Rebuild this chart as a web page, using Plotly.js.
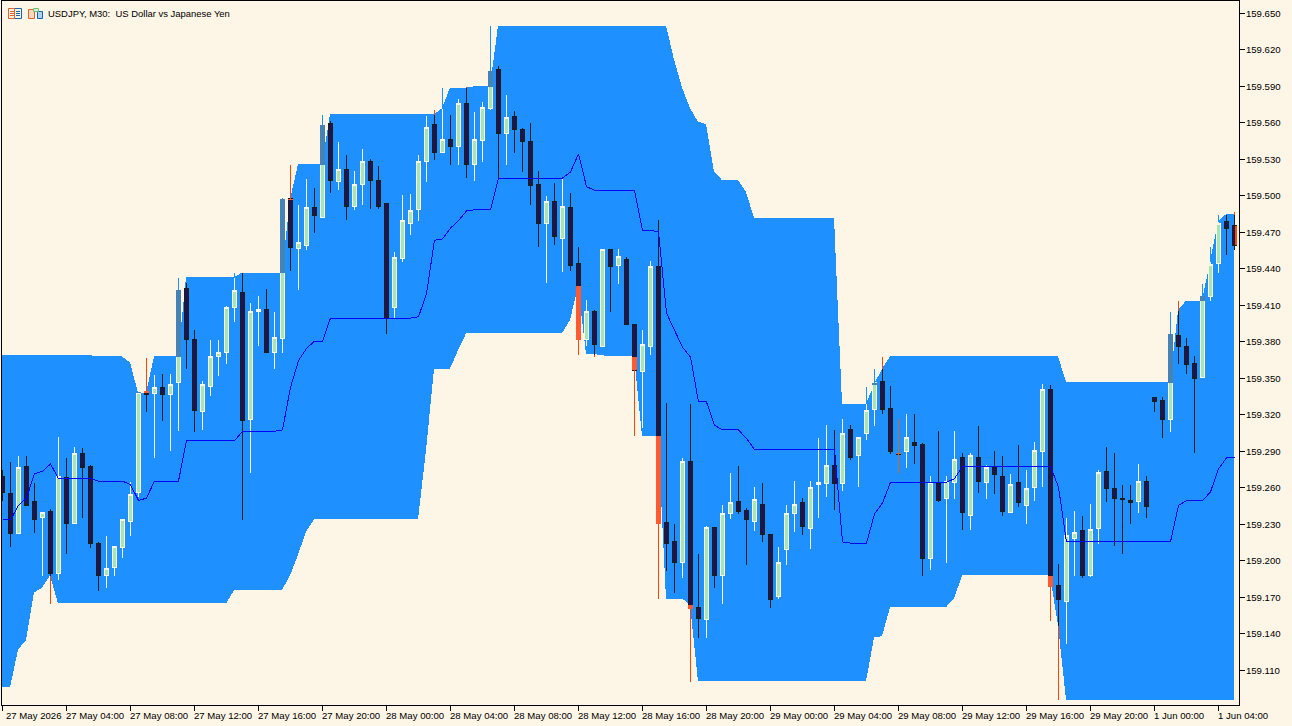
<!DOCTYPE html>
<html><head><meta charset="utf-8">
<script src="https://cdn.plot.ly/plotly-3.0.1.min.js"></script>
<style>html,body{margin:0;padding:0;background:#FDF5E6;overflow:hidden}#c{width:1292px;height:726px}
.boxlayer{transform:translate(0.5px,0.5px)}
.boxlayer path{shape-rendering:crispEdges}
.overplot .xy2 .scatterlayer{transform:translate(0.5px,0.5px)}
.scatterlayer path{shape-rendering:crispEdges}
</style>
</head><body><div id="c"></div>
<script>
const opens=[159.270,159.256,159.223,159.278,159.249,159.236,159.241,159.190,159.269,159.231,
159.289,159.278,159.215,159.188,159.195,159.211,159.233,159.257,159.340,159.338,
159.343,159.337,159.347,159.424,159.382,159.323,159.344,159.368,159.372,159.409,
159.421,159.317,159.405,159.407,159.372,159.383,159.498,159.457,159.460,159.491,
159.483,159.560,159.512,159.522,159.492,159.510,159.529,159.513,159.494,159.409,
159.449,159.478,159.489,159.529,159.559,159.536,159.547,159.541,159.576,159.526,
159.546,159.572,159.604,159.552,159.566,159.555,159.545,159.510,159.478,159.496,
159.465,159.491,159.445,159.382,159.405,159.377,159.456,159.443,159.448,159.395,
159.356,159.377,159.442,159.232,159.216,159.199,159.282,159.162,159.152,159.228,
159.188,159.239,159.249,159.242,159.233,159.247,159.222,159.171,159.210,159.239,
159.248,159.227,159.263,159.264,159.279,159.264,159.308,159.287,159.305,159.325,
159.348,159.326,159.289,159.290,159.298,159.296,159.202,159.264,159.252,159.265,
159.285,159.238,159.285,159.265,159.277,159.270,159.240,159.265,159.246,159.261,
159.290,159.341,159.180,159.167,159.219,159.225,159.188,159.227,159.274,159.260,
159.252,159.250,159.249,159.266,159.335,159.332,159.317,159.386,159.377,159.363,
159.351,159.418,159.445,159.479,159.476];
const highs=[159.275,159.282,159.287,159.287,159.264,159.240,159.243,159.302,159.285,159.294,
159.293,159.279,159.216,159.221,159.212,159.235,159.265,159.339,159.367,159.353,
159.354,159.354,159.433,159.429,159.390,159.348,159.382,159.382,159.410,159.437,
159.437,159.412,159.418,159.424,159.405,159.499,159.526,159.493,159.514,159.507,
159.567,159.562,159.545,159.534,159.521,159.539,159.531,159.525,159.494,159.454,
159.501,159.502,159.534,159.566,159.571,159.589,159.567,159.580,159.590,159.569,
159.578,159.640,159.607,159.583,159.570,159.556,159.560,159.521,159.500,159.511,
159.515,159.503,159.458,159.415,159.407,159.456,159.457,159.457,159.450,159.395,
159.390,159.447,159.481,159.330,159.231,159.285,159.329,159.206,159.229,159.228,
159.246,159.273,159.278,159.244,159.261,159.264,159.222,159.212,159.246,159.266,
159.252,159.266,159.301,159.312,159.308,159.317,159.312,159.302,159.343,159.358,
159.368,159.344,159.317,159.321,159.321,159.297,159.270,159.307,159.270,159.307,
159.289,159.289,159.311,159.279,159.291,159.287,159.272,159.296,159.275,159.298,
159.346,159.345,159.198,159.236,159.241,159.237,159.247,159.275,159.294,159.289,
159.263,159.263,159.280,159.270,159.335,159.335,159.405,159.414,159.384,159.369,
159.428,159.458,159.485,159.485,159.487];
const lows=[159.250,159.212,159.223,159.246,159.223,159.188,159.165,159.185,159.206,159.231,
159.236,159.211,159.176,159.178,159.188,159.203,159.221,159.253,159.323,159.285,
159.315,159.291,159.307,159.358,159.306,159.308,159.336,159.352,159.362,159.397,
159.234,159.273,159.377,159.372,159.358,159.371,159.439,159.423,159.456,159.470,
159.483,159.503,159.505,159.481,159.489,159.493,159.490,159.490,159.387,159.400,
159.446,159.468,159.480,159.512,159.530,159.536,159.526,159.526,159.515,159.513,
159.528,159.571,159.515,159.526,159.536,159.520,159.493,159.458,159.429,159.460,
159.438,159.439,159.370,159.377,159.368,159.377,159.405,159.428,159.395,159.303,
159.310,159.370,159.169,159.192,159.174,159.186,159.101,159.137,159.137,159.178,
159.165,159.235,159.239,159.197,159.225,159.216,159.162,159.169,159.197,159.224,
159.222,159.210,159.236,159.253,159.242,159.258,159.283,159.261,159.300,159.311,
159.321,159.288,159.273,159.277,159.280,159.188,159.193,159.249,159.199,159.251,
159.226,159.226,159.256,159.251,159.255,159.237,159.240,159.245,159.231,159.250,
159.261,159.151,159.086,159.132,159.188,159.186,159.187,159.214,159.249,159.213,
159.206,159.231,159.240,159.236,159.323,159.301,159.306,159.362,159.354,159.289,
159.351,159.414,159.437,159.452,159.456];
const closes=[159.257,159.223,159.277,159.246,159.234,159.240,159.190,159.270,159.231,159.289,
159.277,159.215,159.188,159.194,159.212,159.234,159.255,159.339,159.337,159.343,
159.337,159.345,159.423,159.382,159.324,159.345,159.368,159.372,159.409,159.423,
159.316,159.405,159.407,159.372,159.384,159.498,159.458,159.462,159.491,159.484,
159.559,159.513,159.522,159.492,159.510,159.529,159.513,159.492,159.400,159.450,
159.480,159.488,159.529,159.557,159.536,159.547,159.541,159.576,159.526,159.547,
159.573,159.603,159.552,159.565,159.555,159.545,159.509,159.478,159.496,159.467,
159.492,159.443,159.382,159.405,159.378,159.456,159.442,159.451,159.395,159.357,
159.378,159.442,159.231,159.215,159.199,159.282,159.161,159.153,159.228,159.188,
159.239,159.248,159.241,159.234,159.251,159.222,159.169,159.199,159.239,159.247,
159.229,159.261,159.265,159.279,159.264,159.305,159.285,159.302,159.324,159.347,
159.325,159.290,159.288,159.302,159.295,159.202,159.265,159.250,159.266,159.284,
159.240,159.287,159.266,159.277,159.271,159.241,159.263,159.248,159.260,159.291,
159.341,159.179,159.169,159.221,159.224,159.188,159.226,159.273,159.260,159.252,
159.251,159.248,159.266,159.245,159.331,159.317,159.387,159.377,159.362,159.350,
159.418,159.444,159.478,159.474,159.460];
const bandUpper=[159.369,159.369,159.369,159.369,159.369,159.369,159.369,159.369,159.369,159.369,159.369,159.369,
159.368,159.368,159.368,159.368,159.363,159.338,159.338,159.368,159.368,159.368,159.368,
159.433,159.433,159.433,159.433,159.433,159.433,159.433,
159.437,159.437,159.437,159.437,159.437,159.437,
159.497,159.526,159.526,159.526,159.526,159.567,
159.567,159.567,159.567,159.567,159.567,159.567,159.567,159.567,159.567,159.567,159.567,159.567,159.567,
159.572,159.589,159.589,159.589,159.590,159.590,159.590,
159.640,159.640,159.640,159.640,159.640,159.640,159.640,159.640,159.640,159.640,159.640,159.640,159.640,159.640,159.640,159.640,159.640,159.640,159.640,159.640,159.640,159.640,
159.612,159.589,159.572,159.561,159.559,159.520,159.513,159.513,159.513,159.503,
159.482,159.482,159.482,159.482,159.482,159.482,159.482,159.482,159.482,159.482,159.482,
159.329,159.329,159.329,159.329,159.345,159.358,
159.368,159.368,159.368,159.368,159.368,159.368,159.368,159.368,159.368,159.368,159.368,159.368,159.368,159.368,159.368,159.368,159.368,159.368,159.368,159.368,159.368,159.368,
159.347,159.347,159.347,159.347,159.347,159.347,159.347,159.347,159.347,159.347,159.347,159.347,159.347,159.347,
159.406,159.414,159.414,159.414,159.446,159.479,159.485,159.485];
const bandLower=[159.096,159.096,159.127,159.135,159.174,159.178,159.188,
159.165,159.165,159.165,159.165,159.165,159.165,159.165,159.165,159.165,159.165,159.165,159.165,159.165,159.165,159.165,159.165,159.165,159.165,159.165,159.165,159.165,159.165,
159.176,159.176,159.176,159.176,159.176,159.176,159.176,
159.188,159.205,159.224,
159.234,159.234,159.234,159.234,159.234,159.234,159.234,159.234,159.234,159.234,159.234,159.234,159.234,159.234,
159.291,159.358,159.358,159.358,159.373,
159.387,159.387,159.387,159.387,159.387,159.387,159.387,159.387,159.387,159.387,159.387,159.387,159.387,
159.398,159.426,159.370,159.370,159.369,159.368,159.368,159.368,159.368,
159.303,159.303,159.303,159.169,159.169,159.169,159.164,
159.101,159.101,159.101,159.101,159.101,159.101,159.101,159.101,159.101,159.101,159.101,159.101,159.101,159.101,159.101,159.101,159.101,159.101,159.101,159.101,159.101,159.101,
159.137,159.138,
159.162,159.162,159.162,159.162,159.162,159.162,159.162,159.162,159.169,
159.188,159.188,159.188,159.188,159.188,159.188,159.188,159.188,159.188,159.188,159.188,159.188,159.147,
159.086,159.086,159.086,159.086,159.086,159.086,159.086,159.086,159.086,159.086,159.086,159.086,159.086,159.086,159.086,159.086,159.086,159.086,159.086,159.086,159.086,159.086];
const midLine=[159.234,159.234,159.246,159.252,159.272,159.274,159.280,
159.268,159.268,159.268,159.268,159.268,159.266,159.266,159.266,159.266,159.263,159.250,159.252,
159.266,159.266,159.266,159.266,
159.299,159.299,159.299,159.299,159.299,159.299,159.299,
159.307,159.307,159.307,159.307,159.307,159.308,
159.343,159.365,159.375,159.381,159.381,
159.400,159.400,159.400,159.400,159.400,159.400,159.400,159.400,159.400,159.400,159.400,159.401,
159.420,159.464,159.465,159.474,159.480,159.488,159.489,159.489,159.489,
159.515,159.515,159.515,159.515,159.515,159.515,159.515,159.515,159.515,
159.520,159.535,159.508,
159.505,159.505,159.505,159.505,159.505,159.505,
159.472,159.472,159.471,159.404,159.390,159.376,159.368,159.331,159.331,159.312,159.308,159.308,159.308,159.301,
159.292,159.292,159.292,159.292,159.292,159.292,159.292,159.292,159.292,159.292,159.292,
159.216,159.215,159.215,159.215,159.239,159.248,
159.265,159.265,159.265,159.265,159.265,159.265,159.265,159.265,159.268,
159.278,159.278,159.278,159.278,159.278,159.278,159.278,159.278,159.278,159.278,159.278,159.278,159.261,
159.216,159.216,159.216,159.216,159.216,159.216,159.216,159.216,159.216,159.216,159.216,159.216,159.216,159.216,
159.246,159.250,159.250,159.250,159.257,159.276,159.285,159.285];
const barIndex=opens.map((_,i)=>i);
const dojiAccent=[112];
const yTicks=[159.110,159.140,159.170,159.200,159.230,159.260,159.290,159.320,159.350,159.380,159.410,159.440,159.470,159.500,159.530,159.560,159.590,159.620,159.650];
const xTickBars=[0,8,16,24,32,40,48,56,64,72,80,88,96,104,112,120,128,136,144,152];
const xTickLabels=["27 May 2026","27 May 04:00","27 May 08:00","27 May 12:00","27 May 16:00","27 May 20:00","28 May 00:00","28 May 04:00","28 May 08:00","28 May 12:00","28 May 16:00","28 May 20:00","29 May 00:00","29 May 04:00","29 May 08:00","29 May 12:00","29 May 16:00","29 May 20:00","1 Jun 00:00","1 Jun 04:00"];
const chartTitle="USDJPY, M30:\u00a0\u00a0US Dollar vs Japanese Yen";

const W=1292,H=726,mL=2,mR=53,mT=1,mB=21;
const xRange=[0,154.625], yRange=[159.0815,159.6602];
const CREAM='#FDF5E6',BLUE='#1E90FF',ORANGE='#FF4500',ACCENT='#D2691E';
const FONT='"Liberation Sans"';

const wB={x:[],y:[]},wO={x:[],y:[]},bS={x:[],y:[]},bO={x:[],y:[]},dA={x:[],y:[]},dB={x:[],y:[]},tail={x:[],y:[]};
const seg=(t,i,a,b)=>{t.x.push(i,i,null);t.y.push(a,b,null);};
barIndex.forEach(i=>{
  if(dojiAccent.includes(i))return;
  const bull=closes[i]>=opens[i],top=Math.max(opens[i],closes[i]),bot=Math.min(opens[i],closes[i]);
  const u=bandUpper[i],l=bandLower[i];
  if(highs[i]>u){seg(bull?wB:wO,i,Math.max(u,top),highs[i]);}
  if(top>u){seg(bull?bS:bO,i,Math.max(u,bot),top);}
  if(!bull&&lows[i]<l){seg(wO,i,lows[i],Math.min(l,bot));}
  if(!bull&&bot<l){seg(bO,i,bot,Math.min(l,top));}
});
dojiAccent.forEach(i=>{seg(dA,i,lows[i],highs[i]);seg(dB,i,closes[i],opens[i]);});
const last=barIndex.length-1;
seg(tail,last+0.1875,opens[last],closes[last]);
const ln=(t,c,w,name)=>({type:'scatter',mode:'lines',x:t.x,y:t.y,xaxis:'x',yaxis:'y2',line:{color:c,width:w},hoverinfo:'skip',showlegend:false,connectgaps:false,name});

const traces=[
 {type:'scatter',mode:'lines',x:barIndex,y:bandLower,line:{width:0,color:BLUE},hoverinfo:'skip',showlegend:false,xaxis:'x',yaxis:'y'},
 {type:'scatter',mode:'lines',x:barIndex,y:bandUpper,line:{width:0,color:BLUE},fill:'tonexty',fillcolor:BLUE,hoverinfo:'skip',showlegend:false,xaxis:'x',yaxis:'y'},
 {type:'candlestick',x:barIndex,open:opens,high:highs,low:lows,close:closes,xaxis:'x',yaxis:'y2',hoverinfo:'skip',showlegend:false,whiskerwidth:0,
  line:{width:1},
  increasing:{line:{color:CREAM,width:1},fillcolor:'#A9E4B2'},
  decreasing:{line:{color:'#1C1C1C',width:1},fillcolor:'#1E1450'}},
 ln(wB,BLUE,1,'w1'),ln(wO,ORANGE,1,'w2'),ln(bS,'#4682B4',5,'b1'),ln(bO,'#FF5A30',5,'b2'),ln(dB,ACCENT,5,'db'),ln(dA,ACCENT,1,'d'),ln(tail,ORANGE,2,'t'),
 {type:'scatter',mode:'lines',x:barIndex,y:midLine,xaxis:'x',yaxis:'y2',line:{color:'#0000FF',width:1},hoverinfo:'skip',showlegend:false}
];
const px=v=>(v-mL)/(W-mL-mR), py=v=>1-(v-mT)/(H-mT-mB);
const rect=(x0,y0,x1,y1,c,f)=>({type:'rect',xref:'paper',yref:'paper',x0:px(x0),x1:px(x1),y0:py(y0),y1:py(y1),line:{color:c,width:1},fillcolor:f||'rgba(0,0,0,0)'});
const hl=(x0,x1,y,c)=>({type:'line',xref:'paper',yref:'paper',x0:px(x0),x1:px(x1),y0:py(y),y1:py(y),line:{color:c,width:1}});
const shapes=[
 rect(8.5,8.5,21.5,18.5,'#1565B0','#FDF5E6'),rect(8.5,8.5,14.5,18.5,'#E8622A','#FDF5E6'),
 hl(10,14,11.5,'#E8622A'),hl(10,14,13.5,'#E8622A'),hl(10,14,15.5,'#E8622A'),
 hl(16,20,11.5,'#1565B0'),hl(16,20,13.5,'#1565B0'),hl(16,20,15.5,'#1565B0'),
 rect(28.5,9.5,34.5,18.5,'#E8622A','#FBD9BE'),rect(37.5,11.5,42.5,18.5,'#1565B0','#A9D4F5'),rect(33.5,8.5,38.5,11.5,'#6CC070','#D6F0D6')
];
const annos=xTickBars.map((b,k)=>({xref:'x',yref:'paper',x:b,y:0,xanchor:'left',yanchor:'top',yshift:-4,xshift:k===0?3:-1,showarrow:false,text:xTickLabels[k],font:{family:FONT,size:9.6,color:'#000'},borderpad:0}));
annos.push({xref:'paper',yref:'paper',x:px(47),y:py(14),xanchor:'left',yanchor:'middle',showarrow:false,text:chartTitle,font:{family:FONT,size:9.45,color:'#000'},borderpad:0});
const layout={width:W,height:H,margin:{l:mL,r:mR,t:mT,b:mB,pad:0},paper_bgcolor:CREAM,plot_bgcolor:CREAM,showlegend:false,hovermode:false,boxgap:0.5,boxgroupgap:0,boxmode:'overlay',
 xaxis:{range:xRange,type:'linear',showgrid:false,zeroline:false,showline:true,mirror:true,linecolor:'#000',linewidth:1,ticks:'outside',ticklen:5,tickcolor:'#000',tickwidth:1,tickmode:'array',tickvals:xTickBars,ticktext:xTickBars.map(()=>''),showticklabels:true,rangeslider:{visible:false},fixedrange:true},
 yaxis:{range:yRange,side:'right',showgrid:false,zeroline:false,showline:true,mirror:true,linecolor:'#000',linewidth:1,ticks:'outside',ticklen:5,tickcolor:'#000',tickwidth:1,tickmode:'array',tickvals:yTicks,tickformat:'.3f',ticklabelstandoff:-1,tickfont:{family:FONT,size:9.6,color:'#000'},fixedrange:true},
 yaxis2:{range:yRange,overlaying:'y',side:'right',visible:false,showgrid:false,zeroline:false,fixedrange:true},
 shapes,annotations:annos};
Plotly.newPlot('c',traces,layout,{staticPlot:true,displayModeBar:false});
</script></body></html>
